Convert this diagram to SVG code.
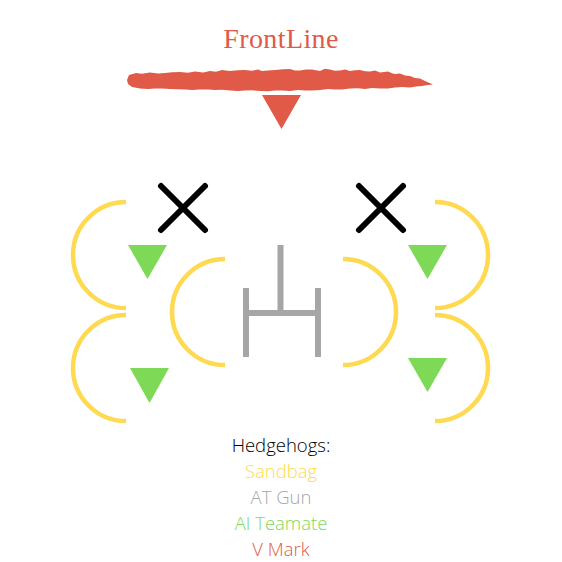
<svg xmlns="http://www.w3.org/2000/svg" width="562" height="562" viewBox="0 0 562 562">
<style>
.sb{fill:none;stroke:#ffd94f;stroke-width:4.5}
.x{stroke:#000;stroke-width:6;stroke-linecap:round}
.ai{fill:#7ed957}
.gun{stroke:#a6a6a6;stroke-width:6;fill:none}
.red{fill:#e05a47}
.lg{font-family:"Open Sans","Liberation Sans",sans-serif;font-weight:300;font-size:18.5px;text-anchor:middle}
</style>
<rect width="562" height="562" fill="#fff"/>
<g id="title">
<text x="281" y="48" font-family="'Liberation Serif',serif" font-size="28" letter-spacing="0.4" fill="#e05a47" text-anchor="middle">FrontLine</text>
</g>
<g id="frontline">
<path class="red" d="M127,80 L129,75 L136,73 L142,73.8 L150,72.5 L158,73.6 L165,73 L172,72.2 L180,72 L188,72.8 L195,71.5 L203,72.4 L210,71 L216,71.8 L222,70 L230,71 L238,70.2 L245,70 L252,70.8 L258,69.5 L262,71 L268,70.4 L275,70 L283,69.2 L290,69 L295,70.6 L300,70.5 L306,69.4 L312,69.5 L320,71 L325,68.8 L330,69.5 L335,70.8 L340,70.5 L345,69.6 L350,71 L355,70.2 L360,70 L365,71.2 L370,71.5 L375,70.6 L380,72.5 L388,71.5 L392,73.2 L395,74 L400,73.6 L405,75.5 L410,76 L415,78 L420,78.6 L425,81 L433,84.5 L426,85.2 L422,86 L416,86.4 L410,87.5 L402,87 L395,87.5 L388,88.4 L380,88.5 L372,88 L365,89 L358,88.2 L350,88.5 L342,89.4 L335,89.5 L328,89 L320,90 L312,90.6 L305,90.5 L298,90 L290,91 L282,90.6 L275,90.5 L268,91.2 L260,91 L252,90.3 L245,90.5 L238,91 L230,90.5 L222,89.8 L215,90 L208,89.6 L200,89.5 L192,90 L185,89.5 L178,89.2 L170,89 L162,88.6 L155,88.5 L148,89 L140,88.5 L132,87 L128,84 Z"/>
<polygon class="red" points="262,95 301,95 281.5,129"/>
</g>
<g id="sandbag-top-left"><path class="sb" d="M126,202 A53,53 0 0 0 126,308"/></g>
<g id="sandbag-bottom-left"><path class="sb" d="M126,315 A53,53 0 0 0 126,421"/></g>
<g id="sandbag-mid-left"><path class="sb" d="M225,259 A53,53 0 0 0 225,365"/></g>
<g id="sandbag-top-right"><path class="sb" d="M435,202 A53,53 0 0 1 435,308"/></g>
<g id="sandbag-bottom-right"><path class="sb" d="M435,315 A53,53 0 0 1 435,421"/></g>
<g id="sandbag-mid-right"><path class="sb" d="M343,259 A53,53 0 0 1 343,365"/></g>
<g id="mark-left"><path class="x" d="M161,186 L205,230 M205,186 L161,230"/></g>
<g id="mark-right"><path class="x" d="M359,186 L403,230 M403,186 L359,230"/></g>
<g id="ai-top-left"><polygon class="ai" points="128,245 167,245 147.5,279"/></g>
<g id="ai-bottom-left"><polygon class="ai" points="130,368 169,368 149.5,403"/></g>
<g id="ai-top-right"><polygon class="ai" points="408,245 447,245 427.5,279"/></g>
<g id="ai-bottom-right"><polygon class="ai" points="408,358 447,358 427.5,392"/></g>
<g id="at-gun"><path class="gun" d="M246,288 V357 M318,288 V357 M246,313 H318 M280.5,245 V313"/></g>
<g id="legend">
<text class="lg" x="281" y="452" fill="#000">Hedgehogs:</text>
<text class="lg" x="281" y="478" fill="#ffd94f">Sandbag</text>
<text class="lg" x="281" y="504" fill="#a6a6a6">AT Gun</text>
<text class="lg" x="281" y="530" fill="#7ed957">AI Teamate</text>
<text class="lg" x="281" y="556" fill="#e05a47">V Mark</text>
</g>
</svg>
